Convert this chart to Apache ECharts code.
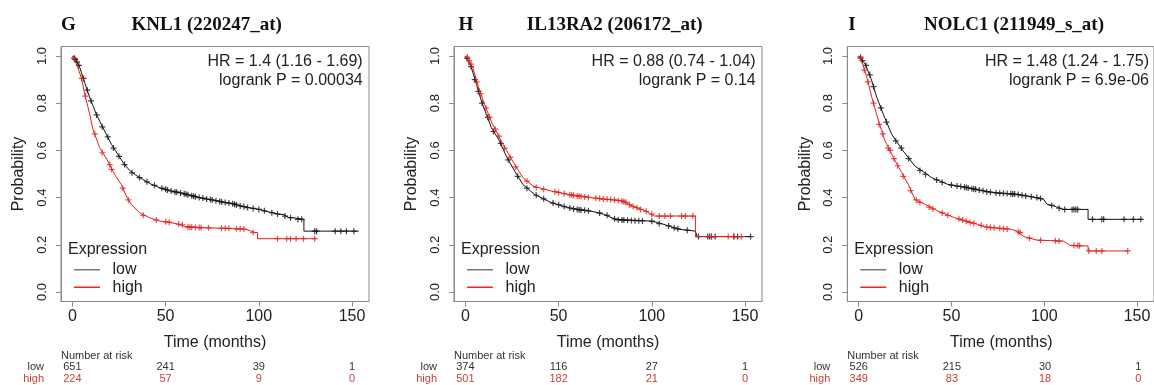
<!DOCTYPE html>
<html>
<head>
<meta charset="utf-8">
<script src="https://cdn.jsdelivr.net/npm/echarts@6/dist/echarts.min.js"></script>
<style>
html,body{margin:0;padding:0;background:#fff;}
#chart{width:1154px;height:385px;}
</style>
</head>
<body>
<div id="chart"></div>
<script>
// ---------- DATA ----------
const panelLetters = ['G', 'H', 'I'];
const panelTitles = ['KNL1 (220247_at)', 'IL13RA2 (206172_at)', 'NOLC1 (211949_s_at)'];
const hrTexts = ['HR = 1.4 (1.16 - 1.69)', 'HR = 0.88 (0.74 - 1.04)', 'HR = 1.48 (1.24 - 1.75)'];
const pTexts = ['logrank P = 0.00034', 'logrank P = 0.14', 'logrank P = 6.9e-06'];
const groupNames = ['low', 'high'];
const xTicks = [0, 50, 100, 150];
const yTicks = [0, 0.2, 0.4, 0.6, 0.8, 1.0];
const riskTimes = [0, 50, 100, 150];
const riskLow = [[651, 241, 39, 1], [374, 116, 27, 1], [526, 215, 30, 1]];
const riskHigh = [[224, 57, 9, 0], [501, 182, 21, 0], [349, 83, 18, 0]];

// Panel G (KNL1)
const gLowCurve = [[0,1],[2,0.98],[4,0.95],[5.7,0.908],[7.5,0.865],[9.3,0.824],[11,0.79],[12.8,0.753],[15.5,0.71],[18.2,0.668],[21,0.625],[24.4,0.583],[27.5,0.545],[30.6,0.516],[34,0.495],[37.8,0.477],[42,0.458],[46.7,0.442],[52,0.43],[57.4,0.421],[63,0.41],[68.1,0.4],[75,0.39],[82.3,0.379],[86,0.375],[90,0.365],[95,0.357],[100.2,0.35],[105,0.34],[110.9,0.329],[113,0.329],[116.2,0.315],[118,0.315],[119,0.308],[124.2,0.308],[124.2,0.258],[153.6,0.258]];
const gLowCensor = [[1,0.99],[1.5,0.985],[2.5,0.975],[3.5,0.96],[6,0.905],[8,0.855],[10,0.81],[13,0.75],[16,0.7],[19,0.657],[22,0.61],[25,0.575],[28,0.54],[32,0.505],[36,0.485],[40,0.467],[44,0.452],[48,0.44],[50,0.435],[51,0.432],[53,0.428],[55,0.424],[56,0.423],[58,0.42],[60,0.416],[61,0.414],[62,0.412],[64,0.408],[65,0.406],[66,0.404],[68,0.4],[70,0.398],[72,0.394],[74,0.392],[75,0.39],[77,0.387],[79,0.384],[80,0.382],[82,0.379],[84,0.377],[86,0.374],[87,0.372],[88,0.369],[90,0.365],[92,0.362],[94,0.358],[97,0.354],[100,0.35],[103,0.344],[107,0.336],[110,0.331],[114,0.322],[117,0.315],[121,0.308],[123,0.308],[130,0.258],[131,0.258],[141,0.258],[144,0.258],[147,0.258],[151,0.258]];
const gHighCurve = [[0,1],[2,0.97],[4.8,0.908],[6.6,0.838],[9.3,0.753],[11,0.689],[14.6,0.612],[19,0.555],[22.6,0.499],[26.2,0.456],[28.9,0.407],[31.5,0.372],[36,0.336],[41.3,0.315],[46.7,0.301],[55.6,0.29],[61,0.276],[68,0.273],[82,0.27],[93,0.266],[94,0.258],[98,0.252],[99.3,0.252],[99.3,0.226],[130.5,0.226]];
const gHighCensor = [[1,0.99],[5,0.905],[7,0.83],[12,0.67],[16,0.59],[20,0.54],[21,0.52],[27,0.44],[30,0.39],[38,0.325],[45,0.305],[50,0.298],[52,0.296],[57,0.288],[59,0.285],[62,0.275],[63,0.275],[64,0.275],[66,0.275],[68,0.273],[69,0.273],[73,0.272],[80,0.27],[82,0.27],[84,0.27],[88,0.268],[90,0.268],[92,0.267],[97,0.252],[110,0.226],[115,0.226],[117,0.226],[120,0.226],[124,0.226],[130,0.226]];

// Panel H (IL13RA2)
const hLowCurve = [[0,1],[3.2,0.951],[5.9,0.88],[8.6,0.809],[11.2,0.753],[13.9,0.697],[18.3,0.64],[21.9,0.576],[26.4,0.513],[30.8,0.456],[37,0.414],[46,0.379],[54.9,0.358],[60,0.35],[67.3,0.343],[74,0.33],[80.6,0.308],[98.4,0.301],[103,0.295],[109.1,0.28],[114.5,0.266],[123.4,0.258],[124.3,0.258],[124.3,0.235],[153,0.235]];
const hLowCensor = [[1,0.99],[3,0.955],[5,0.9],[7,0.85],[9,0.8],[12,0.74],[15,0.68],[19,0.63],[23,0.56],[28,0.49],[33,0.44],[38,0.41],[42,0.395],[47,0.377],[50,0.37],[53,0.362],[56,0.356],[58,0.352],[60,0.35],[61,0.349],[62,0.348],[64,0.346],[66,0.344],[72,0.335],[76,0.325],[80,0.31],[82,0.306],[84,0.305],[85,0.305],[87,0.304],[89,0.303],[91,0.302],[93,0.302],[95,0.301],[100,0.3],[104,0.29],[109,0.28],[112,0.272],[114,0.268],[119,0.262],[125,0.235],[130,0.235],[131,0.235],[132,0.235],[134,0.235],[144,0.235],[146,0.235],[153,0.235]];
const hHighCurve = [[0,1],[2,0.98],[4,0.95],[7,0.87],[10.3,0.795],[14,0.72],[20.1,0.626],[26.4,0.541],[30.8,0.485],[36.2,0.449],[46,0.428],[54.9,0.414],[67.3,0.4],[75,0.393],[84.2,0.386],[89.6,0.364],[96.8,0.343],[101.3,0.322],[123.4,0.322],[123.4,0.235],[150,0.235]];
const hHighCensor = [[1,0.995],[2,0.98],[3,0.965],[6,0.89],[8,0.84],[11,0.78],[13,0.74],[16,0.69],[18,0.66],[21,0.61],[24,0.57],[27,0.53],[33,0.47],[38,0.443],[42,0.435],[48,0.425],[50,0.422],[53,0.417],[56,0.412],[57,0.411],[58,0.41],[60,0.407],[61,0.406],[62,0.405],[64,0.403],[66,0.401],[70,0.398],[72,0.396],[74,0.394],[76,0.393],[78,0.392],[80,0.39],[82,0.388],[84,0.386],[85,0.383],[86,0.38],[88,0.37],[90,0.362],[92,0.357],[94,0.35],[97,0.342],[100,0.33],[104,0.322],[107,0.322],[110,0.322],[116,0.322],[118,0.322],[122,0.322],[132,0.235],[141,0.235],[144,0.235],[148,0.235]];

// Panel I (NOLC1)
const iLowCurve = [[0,1],[3.6,0.965],[7.1,0.894],[9.8,0.824],[13.3,0.753],[17.8,0.668],[24,0.597],[30.3,0.534],[39.2,0.485],[48,0.456],[60.5,0.439],[67.6,0.428],[72.9,0.421],[85.4,0.414],[92,0.405],[99.6,0.393],[101.4,0.372],[105,0.365],[110.3,0.35],[123.6,0.35],[123.6,0.308],[153,0.308]];
const iLowCensor = [[1,0.995],[2,0.98],[4,0.96],[6,0.92],[8,0.87],[12,0.78],[15,0.72],[20,0.64],[23,0.61],[27,0.565],[33,0.515],[36,0.498],[42,0.475],[45,0.465],[50,0.453],[53,0.449],[55,0.447],[57,0.444],[58,0.443],[59,0.441],[61,0.438],[62,0.437],[63,0.435],[65,0.432],[67,0.429],[69,0.425],[71,0.423],[74,0.42],[76,0.419],[78,0.418],[80,0.417],[82,0.416],[83,0.415],[84,0.415],[86,0.413],[88,0.41],[90,0.407],[93,0.404],[96,0.4],[98,0.396],[104,0.367],[108,0.355],[111,0.35],[115,0.35],[116,0.35],[117,0.35],[118,0.35],[126,0.308],[131,0.308],[132,0.308],[143,0.308],[148,0.308],[152,0.308]];
const iHighCurve = [[0,1],[2,0.97],[4.5,0.908],[7.1,0.824],[10.7,0.725],[14.2,0.64],[18.7,0.57],[23.2,0.506],[26.7,0.456],[30.3,0.393],[35.6,0.372],[42.7,0.343],[51.6,0.315],[64,0.287],[67.6,0.277],[81.9,0.266],[85.4,0.258],[89,0.235],[96.1,0.22],[110.3,0.216],[113.9,0.198],[123.6,0.195],[123.6,0.174],[145,0.174]];
const iHighCensor = [[1,0.99],[3,0.94],[5,0.89],[8,0.8],[11,0.71],[13,0.67],[16,0.61],[17,0.6],[19,0.565],[21,0.535],[24,0.49],[28,0.43],[31,0.39],[33,0.38],[38,0.36],[40,0.352],[45,0.335],[48,0.325],[54,0.31],[56,0.305],[58,0.3],[60,0.295],[62,0.291],[66,0.283],[69,0.275],[71,0.273],[73,0.272],[76,0.27],[78,0.268],[80,0.267],[86,0.255],[87,0.252],[92,0.228],[98,0.219],[106,0.217],[108,0.216],[116,0.197],[118,0.197],[119,0.196],[124,0.174],[128,0.174],[131,0.174],[145,0.174]];

const lowCurves = [gLowCurve, hLowCurve, iLowCurve];
const lowCensors = [gLowCensor, hLowCensor, iLowCensor];
const highCurves = [gHighCurve, hHighCurve, iHighCurve];
const highCensors = [gHighCensor, hHighCensor, iHighCensor];

// ---------- LAYOUT / STYLE ----------
const gridLefts = [61, 454, 847.3];
const gridTop = 46.5, gridW = 308, gridH = 255;
const titleCenters = [206.7, 614.7, 1014];
const letterCenters = [68.3, 465.8, 852];
const X_MIN = -6.12, X_MAX = 159.12, Y_MIN = -0.04, Y_MAX = 1.04;
const BLACK = '#111111', RED = '#e3211c', RISK_RED = '#c8403a', TXT = '#222222', BOX = '#8a8a8a';
const SANS = '"Liberation Sans", Arial, sans-serif';
const SERIF = '"Liberation Serif", "Times New Roman", serif';
const PLUS = 'path://M4,0H6V4H10V6H6V10H4V6H0V4H4Z';

const chart = echarts.init(document.getElementById('chart'), null, {renderer: 'canvas'});

const grids = [], xAxes = [], yAxes = [], series = [], graphics = [];
for (let p = 0; p < 3; p++) {
  grids.push({left: gridLefts[p], top: gridTop, width: gridW, height: gridH, show: true,
    borderColor: BOX, borderWidth: 1, backgroundColor: 'transparent'});
  xAxes.push({type: 'value', gridIndex: p, min: X_MIN, max: X_MAX,
    axisLine: {show: true, onZero: false, lineStyle: {color: BOX}},
    axisTick: {show: true, length: 5, inside: false, customValues: xTicks, lineStyle: {color: BOX}},
    axisLabel: {show: true, customValues: xTicks, margin: 7, fontFamily: SANS, fontSize: 16, color: TXT},
    splitLine: {show: false}});
  yAxes.push({type: 'value', gridIndex: p, min: Y_MIN, max: Y_MAX,
    axisLine: {show: true, onZero: false, lineStyle: {color: BOX}},
    axisTick: {show: true, length: 5, inside: false, customValues: yTicks, lineStyle: {color: BOX}},
    axisLabel: {show: true, customValues: yTicks, rotate: 90, margin: 12, fontFamily: SANS, fontSize: 13, color: TXT,
      formatter: v => Number(v).toFixed(1)},
    splitLine: {show: false}});
  series.push({type: 'line', name: groupNames[0], xAxisIndex: p, yAxisIndex: p, data: lowCurves[p],
    showSymbol: false, symbol: 'none', lineStyle: {color: BLACK, width: 1}, animation: false, z: 2});
  series.push({type: 'scatter', xAxisIndex: p, yAxisIndex: p, data: lowCensors[p], symbol: PLUS, symbolSize: 6,
    itemStyle: {color: BLACK}, animation: false, z: 3});
  series.push({type: 'line', name: groupNames[1], xAxisIndex: p, yAxisIndex: p, data: highCurves[p],
    showSymbol: false, symbol: 'none', lineStyle: {color: RED, width: 1}, animation: false, z: 4});
  series.push({type: 'scatter', xAxisIndex: p, yAxisIndex: p, data: highCensors[p], symbol: PLUS, symbolSize: 6,
    itemStyle: {color: RED}, animation: false, z: 5});

  const L = gridLefts[p];
  const R = L + gridW;
  graphics.push({type: 'text', x: letterCenters[p], y: 25, style: {text: panelLetters[p], font: 'bold 19px ' + SERIF, fill: '#111', align: 'center', verticalAlign: 'middle'}});
  graphics.push({type: 'text', x: titleCenters[p], y: 25, style: {text: panelTitles[p], font: 'bold 19px ' + SERIF, fill: '#111', align: 'center', verticalAlign: 'middle'}});
  graphics.push({type: 'text', x: R - 6.3, y: 62, style: {text: hrTexts[p], font: '16px ' + SANS, fill: TXT, align: 'right', verticalAlign: 'middle'}});
  graphics.push({type: 'text', x: R - 6.3, y: 80.5, style: {text: pTexts[p], font: '16px ' + SANS, fill: TXT, align: 'right', verticalAlign: 'middle'}});
  graphics.push({type: 'text', x: L + gridW / 2, y: 342.3, style: {text: 'Time (months)', font: '16px ' + SANS, fill: TXT, align: 'center', verticalAlign: 'middle'}});
  graphics.push({type: 'text', x: L - 42, y: 174, rotation: Math.PI / 2, style: {text: 'Probability', font: '16px ' + SANS, fill: TXT, align: 'center', verticalAlign: 'middle'}});
  // legend
  graphics.push({type: 'text', x: L + 7, y: 249.5, style: {text: 'Expression', font: '16px ' + SANS, fill: TXT, align: 'left', verticalAlign: 'middle'}});
  graphics.push({type: 'rect', z: 100, shape: {x: L + 13, y: 269, width: 26, height: 1.5}, style: {fill: '#777777', stroke: null}});
  graphics.push({type: 'text', x: L + 51.5, y: 270, style: {text: groupNames[0], font: '16px ' + SANS, fill: TXT, align: 'left', verticalAlign: 'middle'}});
  graphics.push({type: 'rect', z: 100, shape: {x: L + 13, y: 286.5, width: 26, height: 1.5}, style: {fill: '#ff2020', stroke: null}});
  graphics.push({type: 'text', x: L + 51.5, y: 287.5, style: {text: groupNames[1], font: '16px ' + SANS, fill: TXT, align: 'left', verticalAlign: 'middle'}});
  // number at risk
  graphics.push({type: 'text', x: L, y: 355.7, style: {text: 'Number at risk', font: '11px ' + SANS, fill: '#333', align: 'left', verticalAlign: 'middle'}});
  graphics.push({type: 'text', x: L - 17, y: 367.3, style: {text: groupNames[0], font: '11px ' + SANS, fill: '#333', align: 'right', verticalAlign: 'middle'}});
  graphics.push({type: 'text', x: L - 17, y: 379, style: {text: groupNames[1], font: '11px ' + SANS, fill: RISK_RED, align: 'right', verticalAlign: 'middle'}});
  for (let k = 0; k < riskTimes.length; k++) {
    const px = L + (riskTimes[k] - X_MIN) / (X_MAX - X_MIN) * gridW;
    graphics.push({type: 'text', x: px, y: 367.3, style: {text: String(riskLow[p][k]), font: '11px ' + SANS, fill: '#333', align: 'center', verticalAlign: 'middle'}});
    graphics.push({type: 'text', x: px, y: 379, style: {text: String(riskHigh[p][k]), font: '11px ' + SANS, fill: RISK_RED, align: 'center', verticalAlign: 'middle'}});
  }
}

chart.setOption({
  animation: false,
  backgroundColor: '#ffffff',
  grid: grids,
  xAxis: xAxes,
  yAxis: yAxes,
  series: series,
  graphic: {elements: graphics}
});
</script>
</body>
</html>
